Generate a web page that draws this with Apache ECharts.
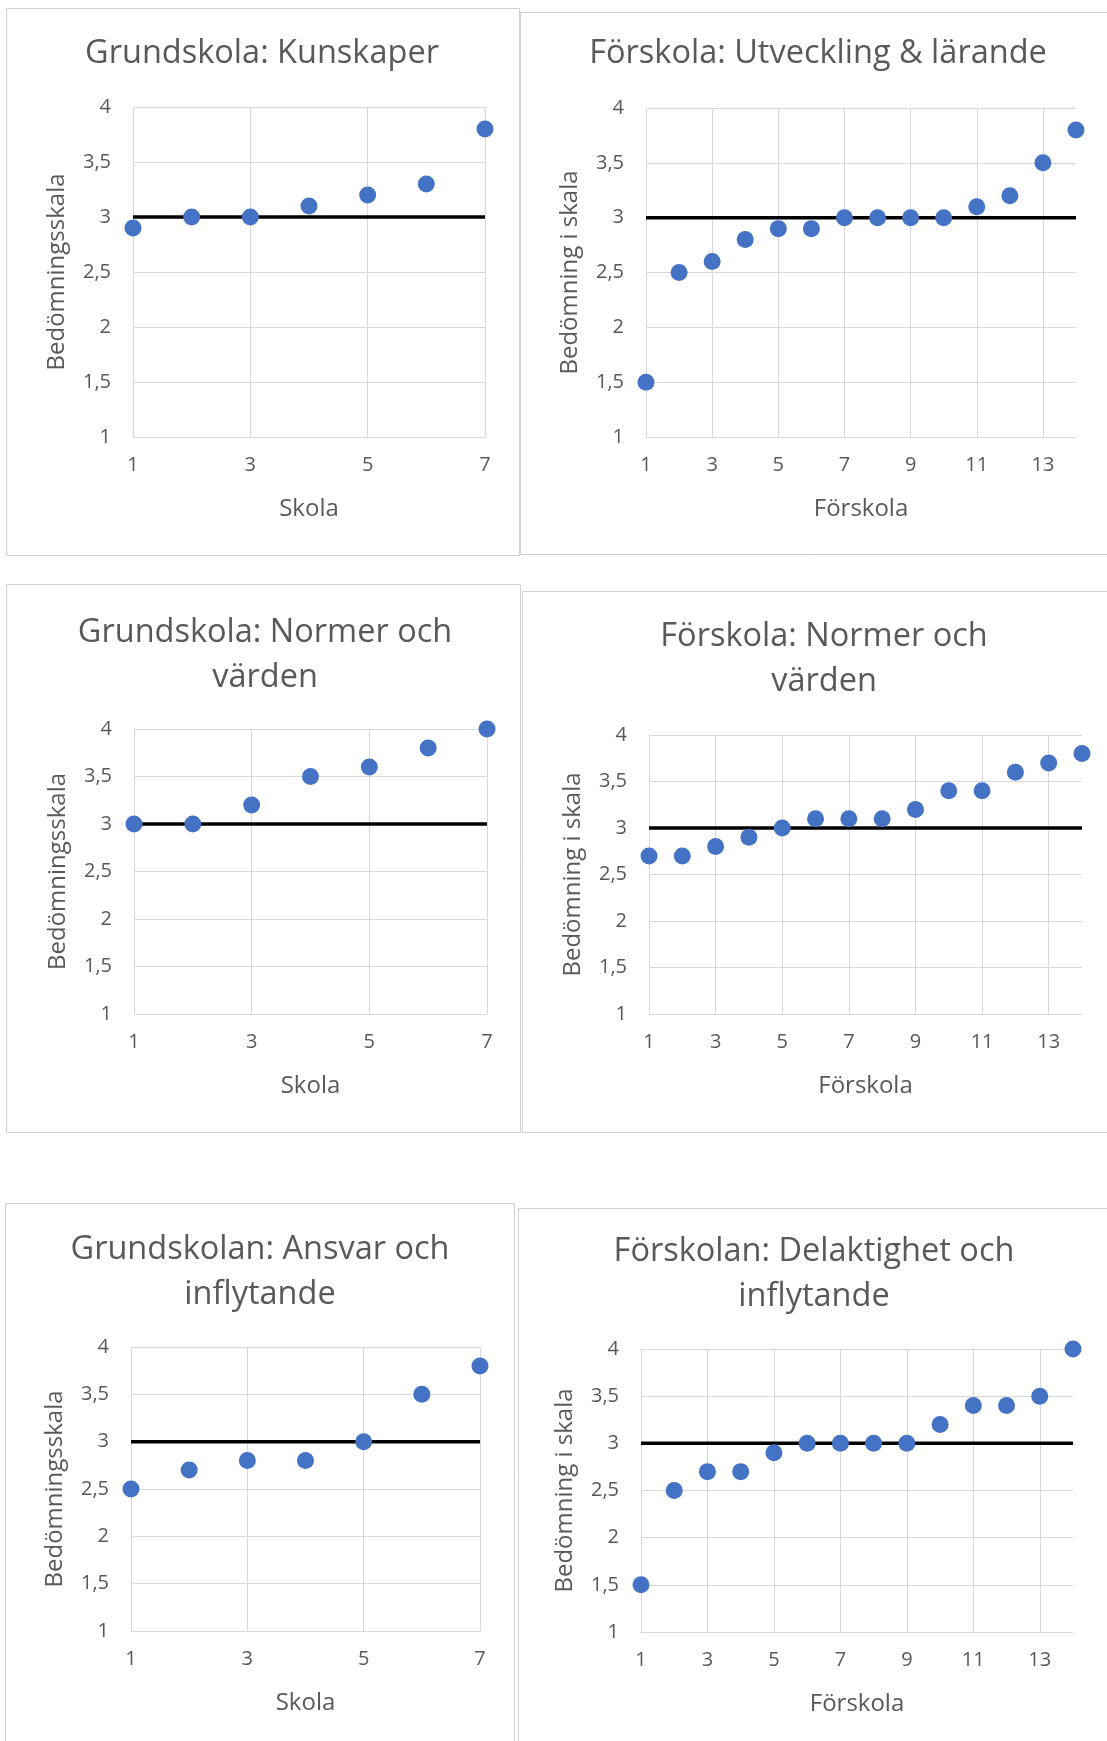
<!DOCTYPE html>
<html>
<head>
<meta charset="utf-8">
<title>Bedömning per skola</title>
<script src="https://cdn.jsdelivr.net/npm/echarts@6/dist/echarts.min.js"></script>
<style>
  html, body { margin: 0; padding: 0; background: #fff; }
  #main { width: 1107px; height: 1741px; }
</style>
</head>
<body>
<div id="main"></div>
<script>
// värden avlästa per skola / förskola (sorterade)
const grundKunskaper = [2.9, 3.0, 3.0, 3.1, 3.2, 3.3, 3.8];
const forskolaUtveckling = [1.5, 2.5, 2.6, 2.8, 2.9, 2.9, 3.0, 3.0, 3.0, 3.0, 3.1, 3.2, 3.5, 3.8];
const grundNormer = [3.0, 3.0, 3.2, 3.5, 3.6, 3.8, 4.0];
const forskolaNormer = [2.7, 2.7, 2.8, 2.9, 3.0, 3.1, 3.1, 3.1, 3.2, 3.4, 3.4, 3.6, 3.7, 3.8];
const grundAnsvar = [2.5, 2.7, 2.8, 2.8, 3.0, 3.5, 3.8];
const forskolaDelaktighet = [1.5, 2.5, 2.7, 2.7, 2.9, 3.0, 3.0, 3.0, 3.0, 3.2, 3.4, 3.4, 3.5, 4.0];

const chartTitles = [
    'Grundskola: Kunskaper',
    'Förskola: Utveckling & lärande',
    'Grundskola: Normer och\nvärden',
    'Förskola: Normer och\nvärden',
    'Grundskolan: Ansvar och\ninflytande',
    'Förskolan: Delaktighet och\ninflytande'
];
const xNames = ['Skola', 'Förskola', 'Skola', 'Förskola', 'Skola', 'Förskola'];
const yNames = ['Bedömningsskala', 'Bedömning i skala', 'Bedömningsskala', 'Bedömning i skala', 'Bedömningsskala', 'Bedömning i skala'];
const seriesValues = [grundKunskaper, forskolaUtveckling, grundNormer, forskolaNormer, grundAnsvar, forskolaDelaktighet];

// skalan 1 - 4, gränsvärde 3
const yMin = 1;
const yMax = 4;
const yStep = 0.5;
const xStep = 2;
const refLevel = 3;

// placering: ram [l,t,r,b], rityta [l,t,r,b], titelns mitt [x,y]
const layout = [
    { box: [6, 8, 519, 555], plot: [133, 107, 485, 437], title: [262, 54] },
    { box: [520, 12, 1120, 554], plot: [646, 108, 1076, 437], title: [818, 54] },
    { box: [6, 584, 520, 1132], plot: [134, 729, 487, 1014], title: [265, 655] },
    { box: [522, 591, 1120, 1132], plot: [649, 735, 1082, 1014], title: [824, 659] },
    { box: [5, 1203, 514, 1760], plot: [131, 1347, 480, 1631], title: [260, 1272] },
    { box: [518, 1208, 1120, 1760], plot: [641, 1349, 1073, 1632], title: [814, 1274] }
];

const chartDom = document.getElementById('main');
const myChart = echarts.init(chartDom);

const grey = '#595959';
const gridColor = '#d9d9d9';
const font = '"Open Sans", "Noto Sans", sans-serif';

const titles = [];
const grids = [];
const xAxes = [];
const yAxes = [];
const series = [];
const borders = [];

seriesValues.forEach((vals, i) => {
    const L = layout[i];
    const n = vals.length;
    borders.push({
        type: 'rect',
        shape: { x: L.box[0] + 0.5, y: L.box[1] + 0.5, width: L.box[2] - L.box[0], height: L.box[3] - L.box[1] },
        style: { fill: 'none', stroke: '#d0d0d0', lineWidth: 1 },
        z: -1
    });
    titles.push({
        text: chartTitles[i],
        left: L.title[0],
        top: L.title[1],
        textAlign: 'center',
        textVerticalAlign: 'middle',
        padding: 0,
        textStyle: { fontFamily: font, fontSize: 32.5, fontWeight: 'normal', color: grey, lineHeight: 45 }
    });
    grids.push({
        left: L.plot[0],
        top: L.plot[1],
        width: L.plot[2] - L.plot[0],
        height: L.plot[3] - L.plot[1],
        containLabel: false
    });
    xAxes.push({
        gridIndex: i,
        type: 'value',
        min: 1,
        max: n,
        interval: xStep,
        name: xNames[i],
        nameLocation: 'middle',
        nameGap: 60,
        nameMoveOverlap: false,
        nameTextStyle: { fontFamily: font, fontSize: 24, color: grey },
        axisLine: { show: true, lineStyle: { color: gridColor, width: 1 } },
        axisTick: { show: false },
        axisLabel: { fontFamily: font, fontSize: 20, color: grey, margin: 18, showMaxLabel: n % 2 === 1 },
        splitLine: { show: true, showMaxLine: n % 2 === 1, lineStyle: { color: gridColor, width: 1 } }
    });
    yAxes.push({
        gridIndex: i,
        type: 'value',
        min: yMin,
        max: yMax,
        interval: yStep,
        name: yNames[i],
        nameLocation: 'middle',
        nameGap: 64,
        nameMoveOverlap: false,
        nameTextStyle: { fontFamily: font, fontSize: 24, color: grey },
        axisLine: { show: true, lineStyle: { color: gridColor, width: 1 } },
        axisTick: { show: false },
        axisLabel: {
            fontFamily: font, fontSize: 20, color: grey, margin: 22,
            formatter: v => String(v).replace('.', ',')
        },
        splitLine: { show: true, lineStyle: { color: gridColor, width: 1 } }
    });
    series.push({
        type: 'line',
        xAxisIndex: i,
        yAxisIndex: i,
        data: [[1, refLevel], [n, refLevel]],
        symbol: 'none',
        lineStyle: { color: '#000', width: 3.5 },
        silent: true,
        z: 2
    });
    series.push({
        type: 'scatter',
        xAxisIndex: i,
        yAxisIndex: i,
        data: vals.map((v, k) => [k + 1, v]),
        symbolSize: 17,
        itemStyle: { color: '#4472C4', opacity: 1 },
        z: 3
    });
});

const option = {
    backgroundColor: '#fff',
    animation: false,
    title: titles,
    grid: grids,
    xAxis: xAxes,
    yAxis: yAxes,
    series: series,
    graphic: borders
};
option && myChart.setOption(option);
</script>
</body>
</html>
